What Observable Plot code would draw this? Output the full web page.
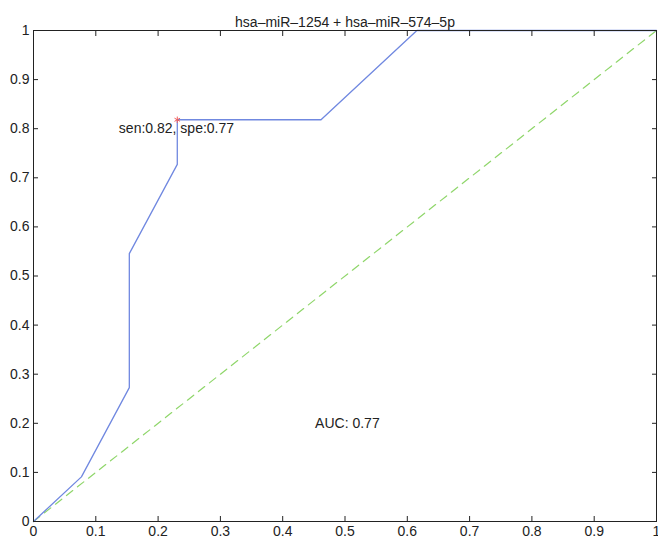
<!DOCTYPE html>
<html>
<head>
<meta charset="utf-8">
<script src="https://cdn.jsdelivr.net/npm/d3@7"></script>
<script src="https://cdn.jsdelivr.net/npm/@observablehq/plot@0.6"></script>
<style>
  html, body { margin: 0; padding: 0; background: #fff; }
</style>
</head>
<body>
<div id="chart"></div>
<script>
const title = "hsa\u2013miR\u20131254 + hsa\u2013miR\u2013574\u20135p";
const fpr = [0, 0.0769, 0.1538, 0.1538, 0.2308, 0.2308, 0.4615, 0.6154, 1];
const tpr = [0, 0.0909, 0.2727, 0.5455, 0.7273, 0.8182, 0.8182, 1, 1];
const chanceX = [0, 1];
const chanceY = [0, 1];
const cutX = [0.2308];
const cutY = [0.8182];
const cutLabel = ["sen:0.82, spe:0.77"];
const cutLabelX = [0.137];
const cutLabelY = [0.80];
const aucLabel = ["AUC: 0.77"];
const aucLabelX = [0.452];
const aucLabelY = [0.20];
const ticks = [0, 0.1, 0.2, 0.3, 0.4, 0.5, 0.6, 0.7, 0.8, 0.9, 1];
const tickLabels = ["0", "0.1", "0.2", "0.3", "0.4", "0.5", "0.6", "0.7", "0.8", "0.9", "1"];

const roc = fpr.map((x, i) => ({x, y: tpr[i]}));
const chance = chanceX.map((x, i) => ({x, y: chanceY[i]}));
const fmt = d => tickLabels[ticks.findIndex(t => Math.abs(t - d) < 1e-9)];

const chart = Plot.plot({
  width: 658,
  height: 540,
  marginLeft: 33,
  marginRight: 2,
  marginTop: 30,
  marginBottom: 19,
  style: {fontFamily: "'Liberation Sans', Arial, sans-serif", fontSize: "14px", background: "#fff", color: "#222"},
  x: {domain: [0, 1]},
  y: {domain: [0, 1]},
  marks: [
    Plot.line(chance, {x: "x", y: "y", stroke: "#8fd66a", strokeWidth: 1.2, strokeDasharray: "8,6"}),
    Plot.line(roc, {x: "x", y: "y", stroke: "#7088e0", strokeWidth: 1.3}),
    Plot.dot(cutX.map((x, i) => ({x, y: cutY[i]})), {x: "x", y: "y", symbol: "asterisk", r: 3, stroke: "#f06060", strokeWidth: 1}),
    Plot.text(cutLabel.map((t, i) => ({t, x: cutLabelX[i], y: cutLabelY[i]})), {x: "x", y: "y", text: "t", textAnchor: "start", fill: "#222", fontSize: 14}),
    Plot.text(aucLabel.map((t, i) => ({t, x: aucLabelX[i], y: aucLabelY[i]})), {x: "x", y: "y", text: "t", textAnchor: "start", fill: "#222", fontSize: 14}),
    Plot.axisX({anchor: "bottom", ticks, tickFormat: fmt, tickSize: -5, tickPadding: 10, label: null, stroke: "#222", fontSize: 14}),
    Plot.axisX({anchor: "top", ticks, tickFormat: () => "", tickSize: -5, label: null, stroke: "#222"}),
    Plot.axisY({anchor: "left", ticks, tickFormat: fmt, tickSize: -5, tickPadding: 9, label: null, stroke: "#222", fontSize: 14}),
    Plot.axisY({anchor: "right", ticks, tickFormat: () => "", tickSize: -5, label: null, stroke: "#222"}),
    Plot.frame({stroke: "#222", strokeWidth: 1}),
    Plot.text([title], {frameAnchor: "top", dy: -13.5, fontSize: 14, fill: "#222"})
  ]
});
document.getElementById("chart").appendChild(chart);
</script>
</body>
</html>
